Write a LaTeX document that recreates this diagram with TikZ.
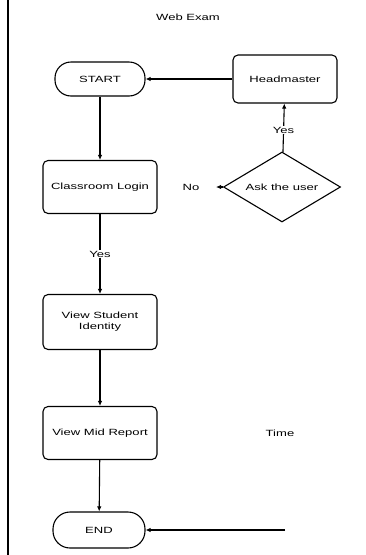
\documentclass[tikz,border=0pt]{standalone}
\usepackage{fontspec}
\setmainfont{Liberation Sans}
\usetikzlibrary{shapes.geometric,arrows.meta}
\newcommand\stretchtxt[1]{\scalebox{1.45}[1]{#1}}
\begin{document}
\begin{tikzpicture}[x=1pt,y=-1pt,
  txt/.style={font=\fontsize{9}{11}\selectfont},
  stadium/.style={draw,line width=1.1pt,rounded corners=16pt,minimum width=90pt,minimum height=34pt,txt,inner sep=0pt},
  procbox/.style={draw,line width=1.1pt,rounded corners=5pt,minimum width=114pt,minimum height=53pt,txt,align=center,inner sep=0pt},
  decision/.style={draw,line width=1.1pt,diamond,aspect=1.67,minimum width=117pt,minimum height=70pt,txt,inner sep=0pt},
  conn/.style={line width=1.1pt,-{Latex[length=5pt,width=4.5pt]}},
  lbl/.style={txt,fill=white,inner sep=1pt}]
\useasboundingbox (0,0) rectangle (365,555);
\draw[line width=1.4pt] (8,0) -- (8,555);
\node[txt] (title) at (188,17) {\stretchtxt{Web Exam}};
\node[stadium] (start) at (100,79) {\stretchtxt{START}};
\node[procbox,minimum width=104pt,minimum height=48pt] (head) at (285,79) {\stretchtxt{Headmaster}};
\node[decision] (ask) at (282,187) {\stretchtxt{Ask the user}};
\node[procbox] (login) at (100,187) {\stretchtxt{Classroom Login}};
\node[procbox,minimum height=55pt] (ident) at (100,322) {\stretchtxt{\begin{tabular}{@{}c@{}}View Student\\Identity\end{tabular}}};
\node[procbox] (mid) at (100,433) {\stretchtxt{View Mid Report}};
\node[stadium,minimum width=92pt,minimum height=36pt,rounded corners=17pt] (end) at (99,530) {\stretchtxt{END}};
\node[txt] (time) at (280,433) {\stretchtxt{Time}};
\coordinate (tail) at (285,530);
\node[txt] (no) at (191,187) {\stretchtxt{No}};
\coordinate (nohead) at (216,187);
\draw[conn] (head) -- (start);
\draw[conn] (ask) -- node[lbl,pos=0.45]{\stretchtxt{Yes}} (head);
\draw[conn] (ask.west) -- (nohead);
\draw[conn] (start) -- (login);
\draw[conn] (login) -- node[lbl,pos=0.5]{\stretchtxt{Yes}} (ident);
\draw[conn] (ident) -- (mid);
\draw[conn] (mid) -- (end);
\draw[conn] (tail) -- (end);
\end{tikzpicture}
\end{document}
